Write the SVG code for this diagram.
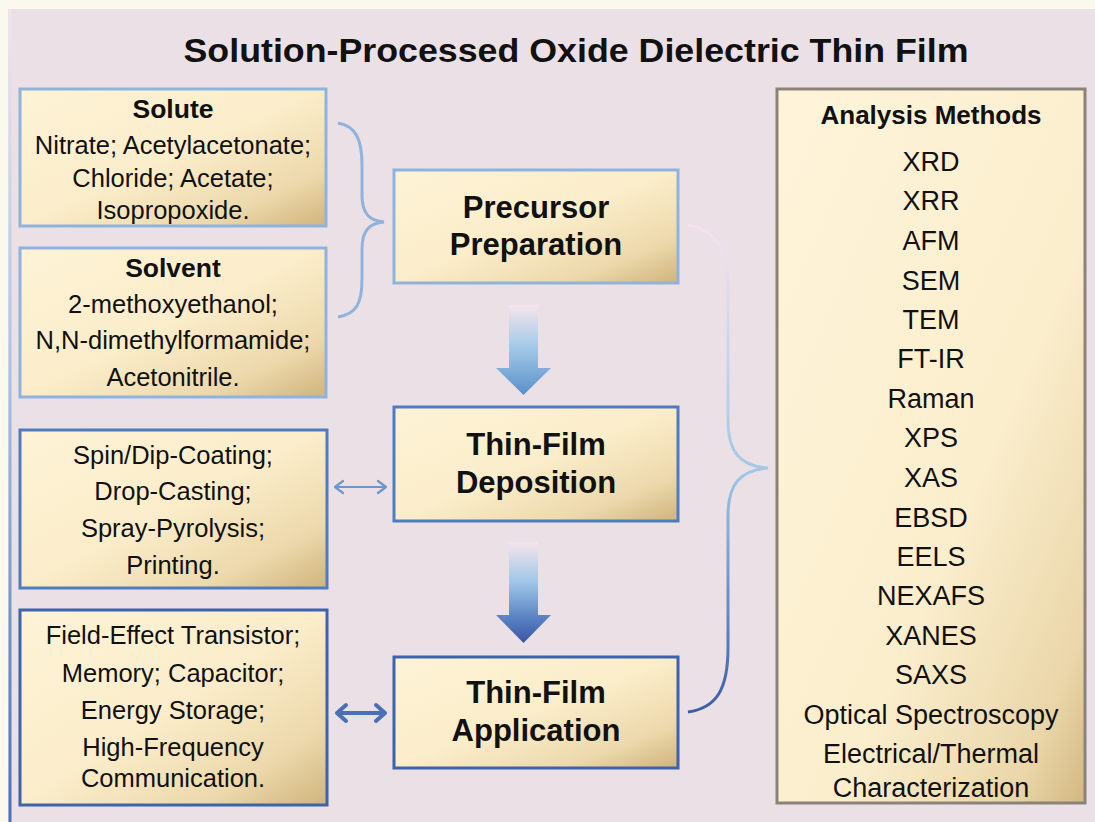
<svg xmlns="http://www.w3.org/2000/svg" width="1095" height="822" viewBox="0 0 1095 822">
<defs>
<linearGradient id="boxFill" x1="0" y1="0" x2="1" y2="1">
<stop offset="0" stop-color="#fef3d7"/>
<stop offset="0.5" stop-color="#fbedca"/>
<stop offset="0.8" stop-color="#ecd8ab"/>
<stop offset="1" stop-color="#cfb47c"/>
</linearGradient>
<linearGradient id="anaFill" x1="0" y1="0" x2="1" y2="1">
<stop offset="0" stop-color="#fef4da"/>
<stop offset="0.6" stop-color="#fbeecd"/>
<stop offset="0.88" stop-color="#ead6a9"/>
<stop offset="1" stop-color="#d2b882"/>
</linearGradient>
<linearGradient id="arrow1" x1="0" y1="0" x2="0" y2="1">
<stop offset="0" stop-color="#f6e4ec"/>
<stop offset="0.45" stop-color="#a6cbe8"/>
<stop offset="1" stop-color="#5a90cb"/>
</linearGradient>
<linearGradient id="arrow2" x1="0" y1="0" x2="0" y2="1">
<stop offset="0" stop-color="#f6e4ec"/>
<stop offset="0.4" stop-color="#9fc6e6"/>
<stop offset="0.75" stop-color="#5a82c4"/>
<stop offset="1" stop-color="#3b55a5"/>
</linearGradient>
<linearGradient id="bigBrace" gradientUnits="userSpaceOnUse" x1="0" y1="225" x2="0" y2="712">
<stop offset="0" stop-color="#f7e2ec"/>
<stop offset="0.5" stop-color="#a3c8e6"/>
<stop offset="1" stop-color="#3a5da8"/>
</linearGradient>
<linearGradient id="leftEdge" gradientUnits="userSpaceOnUse" x1="0" y1="9" x2="0" y2="822">
<stop offset="0" stop-color="#efe6ee"/>
<stop offset="0.45" stop-color="#a9c3e2"/>
<stop offset="1" stop-color="#4a70b6"/>
</linearGradient>
<style>
.box{fill:url(#boxFill);stroke-width:3}
.b1{stroke:#8fb3dc}
.b2{stroke:#4f7cbf}
.b3{stroke:#3d63ad}
.ana{fill:url(#anaFill);stroke:#8b8379;stroke-width:3}
.dbl1{fill:none;stroke:#6d97cb;stroke-width:2.2;stroke-linecap:round;stroke-linejoin:round}
.dbl2{fill:none;stroke:#4a6fb5;stroke-width:4;stroke-linecap:round;stroke-linejoin:round}
text{font-family:"Liberation Sans",Arial,sans-serif;fill:#111;text-anchor:middle}
.t{font-size:25.5px}
.h{font-size:26.5px;font-weight:bold}
.m{font-size:31px;font-weight:bold}
.a{font-size:27px}
.ah{font-size:26px;font-weight:bold}
.title{font-size:34px;font-weight:bold}
</style>
</defs>
<rect x="0" y="0" width="1095" height="822" fill="#fbf8ee"/>
<rect x="8" y="9" width="1087" height="813" fill="#ebe0e6"/>
<line x1="10" y1="9" x2="10" y2="822" stroke="url(#leftEdge)" stroke-width="3"/>
<text class="title" x="576" y="62" textLength="785" lengthAdjust="spacingAndGlyphs">Solution-Processed Oxide Dielectric Thin Film</text>

<g id="solute">
<rect class="box b1" x="20" y="89" width="306" height="137"/>
<text class="h" x="173" y="118">Solute</text>
<text class="t" x="173" y="154">Nitrate; Acetylacetonate;</text>
<text class="t" x="173" y="187">Chloride; Acetate;</text>
<text class="t" x="173" y="219">Isopropoxide.</text>
</g>
<g id="solvent">
<rect class="box b1" x="20" y="248" width="306" height="149"/>
<text class="h" x="173" y="277">Solvent</text>
<text class="t" x="173" y="313">2-methoxyethanol;</text>
<text class="t" x="173" y="349">N,N-dimethylformamide;</text>
<text class="t" x="173" y="386">Acetonitrile.</text>
</g>
<g id="deposition-methods">
<rect class="box b2" x="20" y="430" width="307" height="158"/>
<text class="t" x="173" y="464">Spin/Dip-Coating;</text>
<text class="t" x="173" y="500">Drop-Casting;</text>
<text class="t" x="173" y="537">Spray-Pyrolysis;</text>
<text class="t" x="173" y="574">Printing.</text>
</g>
<g id="applications">
<rect class="box b3" x="20" y="610" width="307" height="195"/>
<text class="t" x="173" y="644">Field-Effect Transistor;</text>
<text class="t" x="173" y="682">Memory; Capacitor;</text>
<text class="t" x="173" y="719">Energy Storage;</text>
<text class="t" x="173" y="756">High-Frequency</text>
<text class="t" x="173" y="787">Communication.</text>
</g>
<g id="precursor">
<rect class="box b1" x="394" y="170" width="284" height="113"/>
<text class="m" x="536" y="218">Precursor</text>
<text class="m" x="536" y="255">Preparation</text>
</g>
<g id="deposition">
<rect class="box b2" x="394" y="407" width="284" height="114"/>
<text class="m" x="536" y="455">Thin-Film</text>
<text class="m" x="536" y="493">Deposition</text>
</g>
<g id="application">
<rect class="box b3" x="394" y="657" width="284" height="111"/>
<text class="m" x="536" y="703">Thin-Film</text>
<text class="m" x="536" y="741">Application</text>
</g>
<g id="analysis">
<rect class="ana" x="777" y="89" width="308" height="714"/>
<text class="ah" x="931" y="124">Analysis Methods</text>
<text class="a" x="931" y="171">XRD</text>
<text class="a" x="931" y="210">XRR</text>
<text class="a" x="931" y="250">AFM</text>
<text class="a" x="931" y="290">SEM</text>
<text class="a" x="931" y="329">TEM</text>
<text class="a" x="931" y="368">FT-IR</text>
<text class="a" x="931" y="408">Raman</text>
<text class="a" x="931" y="447">XPS</text>
<text class="a" x="931" y="487">XAS</text>
<text class="a" x="931" y="527">EBSD</text>
<text class="a" x="931" y="566">EELS</text>
<text class="a" x="931" y="605">NEXAFS</text>
<text class="a" x="931" y="645">XANES</text>
<text class="a" x="931" y="684">SAXS</text>
<text class="a" x="931" y="724">Optical Spectroscopy</text>
<text class="a" x="931" y="763">Electrical/Thermal</text>
<text class="a" x="931" y="797">Characterization</text>
</g>

<g id="connectors">
<path d="M338,123 C356,126 362,140 362,165 L362,195 C362,214 370,221 384,222 C370,223 362,230 362,249 L362,279 C362,304 356,314 338,317" fill="none" stroke="#8fb3dc" stroke-width="3"/>
<path d="M688,225 C716,230 728,250 728,290 L728,420 C728,452 740,466 768,468 C740,470 728,484 728,516 L728,648 C728,690 716,708 688,712" fill="none" stroke="url(#bigBrace)" stroke-width="3"/>
<path d="M509,305 L538,305 L538,368 L551,368 L523.5,395 L496,368 L509,368 Z" fill="url(#arrow1)"/>
<path d="M509,542 L538,542 L538,615 L551,615 L523.5,643 L496,615 L509,615 Z" fill="url(#arrow2)"/>
<path class="dbl1" d="M335,487 L386,487 M343,481 L335,487 L343,493 M378,481 L386,487 L378,493"/>
<path class="dbl2" d="M337,713 L385,713 M346,705 L337,713 L346,721 M376,705 L385,713 L376,721"/>
</g>
</svg>
